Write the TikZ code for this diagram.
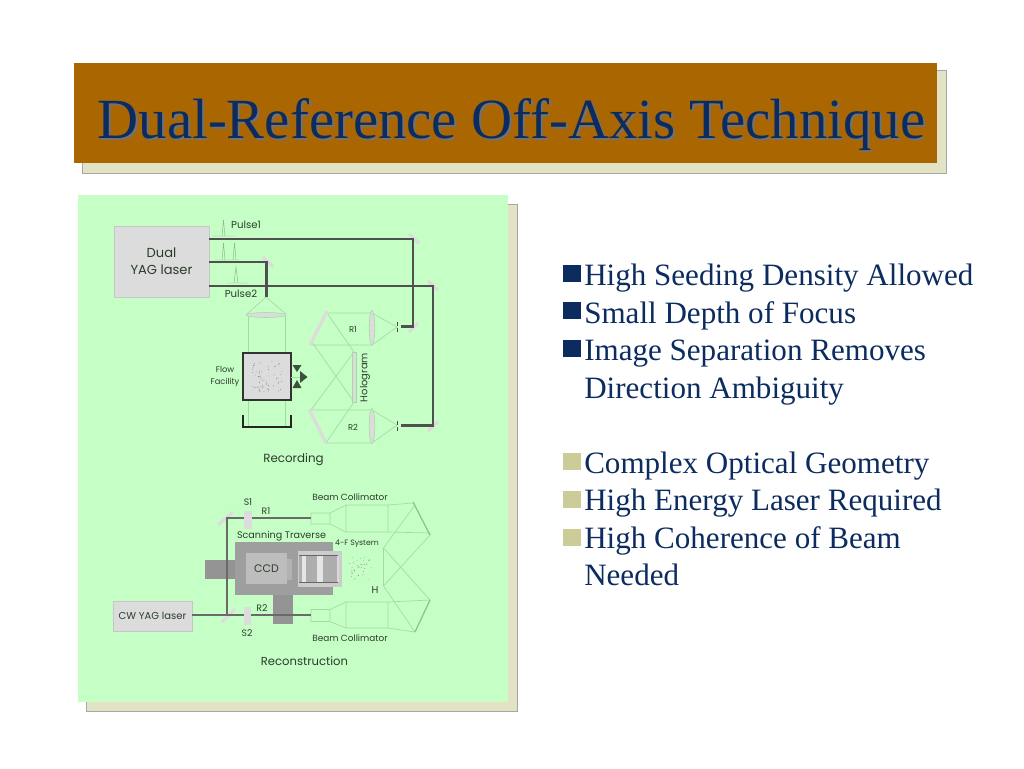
\documentclass[tikz,border=0pt]{standalone}
\usepackage{fontspec}
\setmainfont{Liberation Serif}
\newfontfamily\labelfont{Poppins}
\definecolor{barbrown}{HTML}{AA6600}
\definecolor{shadowtan}{HTML}{E2E2C4}
\definecolor{panelgreen}{HTML}{C6FFC6}
\definecolor{navytext}{HTML}{0C2C60}
\definecolor{khakisq}{HTML}{CCCC99}
\definecolor{beamgrey}{HTML}{505050}
\definecolor{raygreen}{HTML}{A6D8A6}
\definecolor{glassgrey}{HTML}{DCDCDC}
\definecolor{labelgrey}{HTML}{2C3C2C}
\definecolor{arrowgrey}{HTML}{3C503C}
\tikzset{
  boxlabel/.style={font=\labelfont\fontsize{9.8pt}{12.6pt}\selectfont,text=labelgrey,inner sep=0pt,align=center},
  graybox/.style={fill=glassgrey,draw=glassgrey!90!black,line width=0.3pt,inner sep=0pt},
  beam/.style={draw=beamgrey,line width=2.2pt},
  ray/.style={draw=raygreen,line width=0.5pt},
  mirror/.style={draw=glassgrey,line width=2.4pt},
  thinmirror/.style={draw=raygreen!90!black,line width=1pt},
  pulseline/.style={draw=raygreen!85!black,line width=0.35pt},
  bullettext/.style={font=\fontsize{23.3pt}{26pt}\selectfont,text=navytext,anchor=base west,inner sep=0pt},
  titletext/.style={font=\fontsize{42.6pt}{44pt}\selectfont,anchor=base,inner sep=0pt},
}
\newcommand{\squarebullet}[2]{\fill[#1] (563,#2) rectangle (581,#2+17);}
\begin{document}
\begin{tikzpicture}[x=0.75pt,y=0.75pt,yscale=-1,xscale=1]
\useasboundingbox (0,0) rectangle (1024,768);

%title bar
\draw[fill=shadowtan,draw=black!35,line width=0.3pt] (82,70) rectangle (946,173);
\fill[barbrown] (74,63) rectangle (937,163);
\node[titletext,text=black!55] (titleshadow) at (513.5,140.5) {Dual-Reference Off-Axis Technique};
\node[titletext,text=navytext] (title) at (511.5,138.5) {Dual-Reference Off-Axis Technique};

%panel
\draw[fill=shadowtan,draw=black!35,line width=0.3pt] (86,204) rectangle (517,711);
\fill[panelgreen] (78,195) rectangle (508,702);

%--- Recording ---
% Text Node
\node[graybox,boxlabel,minimum width=71.25pt,minimum height=53.25pt] (yag) at (161.5,261.5) {Dual\\YAG laser};

%pulses
\draw[pulseline] (212,236) -- (235,236) (222,236) -- (223.5,220) -- (225,236);
\draw[pulseline] (215,260) -- (240,260) (222,260) -- (223.5,243) -- (225,260) (233,260) -- (234.5,243) -- (236,260);
\draw[pulseline] (226,283) -- (247,283) (234,283) -- (236,267) -- (238,283);

%expander and tube
\draw[ray] (266,297) -- (247,314) (266,297) -- (286,314);
\draw[ray] (248.5,316) -- (248.5,427) (285.5,316) -- (285.5,427);
\draw[fill=glassgrey,draw=raygreen] (266,315) ellipse (20 and 2.5);

%flow facility
\draw[fill=glassgrey,draw=black!80,line width=0.9pt] (243,353) rectangle (291,400);
\node[inner sep=0pt,minimum size=0pt] (flowbox) at (267,377) {};
\pgfmathsetseed{41}
\foreach \i in {1,...,60}{
  \fill[black!50] (267+15*rand,376+16*rand) circle (0.45);
}
\draw[black!85,line width=0.9pt] (243,415) -- (243,427) -- (291,427) -- (291,415);
\draw[ray] (291,377) -- (300,377);
\fill[arrowgrey] (292.5,365) -- (301.5,365) -- (297,372) -- cycle;
\fill[arrowgrey] (300,371) -- (307.5,377) -- (300,383) -- cycle;
\fill[arrowgrey] (297,380) -- (301.5,388) -- (292.5,388) -- cycle;
% Text Node
\node[boxlabel,font=\labelfont\fontsize{6.2pt}{8.5pt}\selectfont] (flowtext) at (225,376.5) {Flow\\Facility};

%R1 and R2 optics
\draw[ray] (327,313) -- (372,313) -- (397,327) -- (372,345) -- (311,345);
\draw[ray] (311,410) -- (372,410) -- (397,425) -- (372,443) -- (326,443);
\draw[ray] (327,313) -- (354,352) (312,342) -- (354,402) (311,410) -- (354,352) (326,443) -- (354,402);
\draw[mirror] (327,311) -- (310,345);
\draw[mirror] (309,409) -- (326,443);
\draw[fill=glassgrey,draw=raygreen] (372,328) ellipse (2.8 and 17.5);
\draw[fill=glassgrey,draw=raygreen] (372,426) ellipse (2.8 and 17.5);
\draw[fill=glassgrey,draw=raygreen] (352,352) rectangle (356,402);

%beams
\coordinate (p1a) at (209,239);
\coordinate (m1a) at (413,239);
\coordinate (m1b) at (413,326.5);
\coordinate (pin1) at (401,326.5);
\coordinate (p2a) at (209,286);
\coordinate (m2a) at (433,286);
\coordinate (m2b) at (433,425.5);
\coordinate (pin2) at (401,425.5);
\coordinate (p3a) at (209,262);
\coordinate (m3a) at (266.5,262);
\coordinate (exp) at (266.5,297);
\draw[mirror] (409,234) -- (419,243);
\draw[mirror] (428,281) -- (438,290);
\draw[mirror] (263,257) -- (273,267);
\draw[mirror] (409,332) -- (418,323);
\draw[mirror] (428,431) -- (438,422);
\draw[beam] (p1a) -- (m1a) -- (m1b) -- (pin1);
\draw[beam] (p2a) -- (m2a) -- (m2b) -- (pin2);
\draw[beam] (p3a) -- (m3a) -- (exp);
\draw[black!70,line width=0.5pt] (397,322) -- (397,325.5) (397,328) -- (397,332);
\draw[black!70,line width=0.5pt] (397,421) -- (397,424.5) (397,427) -- (397,431);

% Text Node
\node[boxlabel,font=\labelfont\fontsize{7.6pt}{8pt}\selectfont] (pulse1) at (246,225) {Pulse1};
\node[boxlabel,font=\labelfont\fontsize{7.6pt}{8pt}\selectfont] (pulse2) at (241,294) {Pulse2};
\node[boxlabel,font=\labelfont\fontsize{6.3pt}{8pt}\selectfont] (r1text) at (353,329) {R1};
\node[boxlabel,font=\labelfont\fontsize{6.3pt}{8pt}\selectfont] (r2text) at (353,427) {R2};
\node[boxlabel,font=\labelfont\fontsize{7.4pt}{8pt}\selectfont,rotate=90] (holotext) at (365,377.5) {Hologram};
\node[boxlabel,font=\labelfont\fontsize{8.9pt}{10pt}\selectfont] (rectext) at (293.5,459.5) {Recording};

%--- Reconstruction ---
%traverse
\fill[black!38] (235,542) rectangle (333,595);
\fill[black!42] (205,560) rectangle (235,579);
\fill[black!42] (273,595) rectangle (293,624);
\node[fill=black!26,text=labelgrey,font=\labelfont\fontsize{8.2pt}{9pt}\selectfont,inner sep=0pt,minimum width=30.75pt,minimum height=23.25pt] (ccd) at (266.5,568.5) {\raisebox{-1pt}{CCD}};
\fill[black!30] (287,559) rectangle (292,580);
\fill[black!20] (298,551) rectangle (342,587);
\fill[black!32] (299,555) rectangle (338,582);
\fill[white!90!black] (302,555) rectangle (306,582);
\fill[white!90!black] (317,555) rectangle (323,582);
\fill[white!85!black] (337,555) rectangle (339,582);
\draw[black!60,line width=0.5pt] (299,555) -- (338,555) (299,582) -- (338,582);

%dots and H plane
\foreach \i in {1,...,40}{
  \fill[black!50] (360+11*rand,568+12*rand) circle (0.4);
}
\draw[ray] (383.5,548) -- (383.5,586);
\draw[ray] (383.5,548) -- (415,505) (383.5,548) -- (430,600) (383.5,586) -- (430,535) (383.5,586) -- (415,632);

%collimators
\draw[ray] (311,513) rectangle (330,524) (330,513) -- (346,505) (330,524) -- (346,532);
\draw[ray] (346,505) rectangle (388,532) (388,505) -- (413,503) (388,532) -- (430,533);
\draw[ray] (311,609.5) rectangle (330,621.5) (330,609.5) -- (346,602) (330,621.5) -- (346,628);
\draw[ray] (346,602) rectangle (388,628) (388,602) -- (430,600) (388,628) -- (415,632);
\draw[thinmirror] (413,502) -- (430,535);
\draw[thinmirror] (430,600) -- (415,632);

% Text Node
\node[graybox,boxlabel,font=\labelfont\fontsize{7.5pt}{8pt}\selectfont,minimum width=59.25pt,minimum height=22.5pt] (cwyag) at (152.5,616) {\raisebox{-0.8pt}{CW YAG laser}};

%beams and shutters
\coordinate (m4a) at (227,615);
\coordinate (m4b) at (227,518);
\coordinate (col1) at (311,518);
\coordinate (col2) at (311,615);
\draw[mirror] (218,525) -- (233,512);
\draw[mirror] (222,622) -- (235,609);
\draw[draw=beamgrey!85,line width=2pt] (cwyag.east|-m4a) -- (col2);
\draw[draw=beamgrey!85,line width=2pt] (m4a) -- (m4b) -- (col1);
\fill[glassgrey] (244,511) rectangle (252,529);
\fill[glassgrey] (244,607) rectangle (251,625);

% Text Node
\node[boxlabel,font=\labelfont\fontsize{7pt}{8pt}\selectfont] (s1text) at (248,502) {S1};
\node[boxlabel,font=\labelfont\fontsize{7pt}{8pt}\selectfont] (r1lower) at (266,511) {R1};
\node[boxlabel,font=\labelfont\fontsize{7pt}{8pt}\selectfont] (s2text) at (247,633) {S2};
\node[boxlabel,font=\labelfont\fontsize{7pt}{8pt}\selectfont] (r2lower) at (262,608) {R2};
\node[boxlabel,font=\labelfont\fontsize{6.7pt}{8pt}\selectfont] (coltop) at (350,497) {Beam Collimator};
\node[boxlabel,font=\labelfont\fontsize{6.7pt}{8pt}\selectfont] (colbot) at (350,638) {Beam Collimator};
\node[boxlabel,font=\labelfont\fontsize{7.2pt}{8pt}\selectfont] (travtext) at (281.5,536) {Scanning Traverse};
\node[boxlabel,font=\labelfont\fontsize{5.8pt}{8pt}\selectfont] (ftext) at (357,544) {4-F System};
\node[boxlabel,font=\labelfont\fontsize{7.4pt}{8pt}\selectfont] (htext) at (375,590) {H};
\node[boxlabel,font=\labelfont\fontsize{8.7pt}{10pt}\selectfont] (recotext) at (304.5,661) {Reconstruction};

%bullets
\squarebullet{navytext}{265}
\squarebullet{navytext}{302}
\squarebullet{navytext}{340}
\squarebullet{khakisq}{453}
\squarebullet{khakisq}{491}
\squarebullet{khakisq}{529}
% Text Node
\node[bullettext] (b1) at (584,285.8) {High Seeding Density Allowed};
\node[bullettext] (b2) at (584,323.3) {Small Depth of Focus};
\node[bullettext] (b3) at (584,360.8) {Image Separation Removes};
\node[bullettext] (b3b) at (584,398.8) {Direction Ambiguity};
\node[bullettext] (b4) at (584,473.3) {Complex Optical Geometry};
\node[bullettext] (b5) at (584,510.8) {High Energy Laser Required};
\node[bullettext] (b6) at (584,548.8) {High Coherence of Beam};
\node[bullettext] (b6b) at (584,585.8) {Needed};
\end{tikzpicture}
\end{document}
